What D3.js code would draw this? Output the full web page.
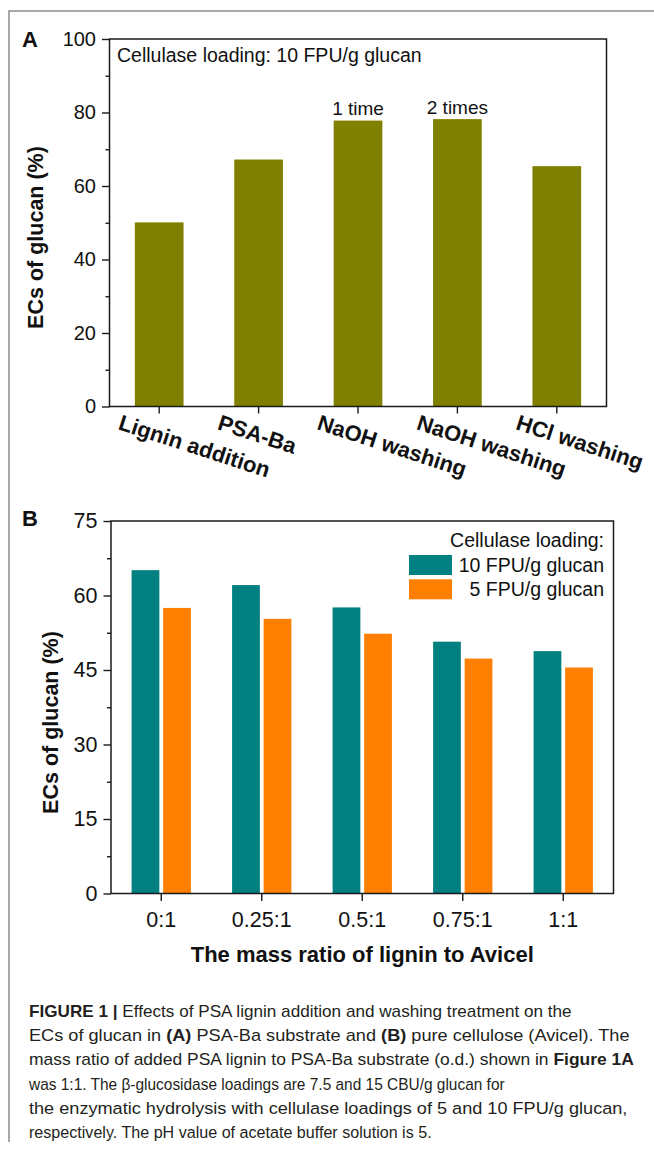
<!DOCTYPE html>
<html>
<head>
<meta charset="utf-8">
<script src="https://cdn.jsdelivr.net/npm/d3@7"></script>
<style>
  html, body { margin: 0; padding: 0; background: #fff; }
  svg { display: block; }
  text { font-family: "Liberation Sans", Arial, Helvetica, sans-serif; fill: #111; }
</style>
</head>
<body>
<script>
// ---- Panel A: PSA-Ba substrate, cellulase 10 FPU/g glucan ----
const treatmentsA = ["Lignin addition", "PSA-Ba", "NaOH washing", "NaOH washing", "HCl washing"];
const ecsA = [50.1, 67.2, 77.8, 78.2, 65.4];
const notesA = ["", "", "1 time", "2 times", ""];
const ticksA = [0, 20, 40, 60, 80, 100];
const minorTicksA = [10, 30, 50, 70, 90];

// ---- Panel B: Avicel with added lignin ----
const ratiosB = ["0:1", "0.25:1", "0.5:1", "0.75:1", "1:1"];
const seriesNamesB = ["10 FPU/g glucan", "5 FPU/g glucan"];
const ecs10FPU = [65.1, 62.1, 57.6, 50.7, 48.8];
const ecs5FPU = [57.5, 55.3, 52.3, 47.3, 45.5];
const ticksB = [0, 15, 30, 45, 60, 75];
const minorTicksB = [7.5, 22.5, 37.5, 52.5, 67.5];

const captionLines = [
  [["FIGURE 1 | ", true], ["Effects of PSA lignin addition and washing treatment on the", false]],
  [["ECs of glucan in ", false], ["(A)", true], [" PSA-Ba substrate and ", false], ["(B)", true], [" pure cellulose (Avicel). The", false]],
  [["mass ratio of added PSA lignin to PSA-Ba substrate (o.d.) shown in ", false], ["Figure 1A", true]],
  [["was 1:1. The β-glucosidase loadings are 7.5 and 15 CBU/g glucan for", false]],
  [["the enzymatic hydrolysis with cellulase loadings of 5 and 10 FPU/g glucan,", false]],
  [["respectively. The pH value of acetate buffer solution is 5.", false]]
];
const captionWidths = [543, 601, 605, 476, 599, 403];

const colors = { olive: "#808000", teal: "#008080", orange: "#ff8000", axis: "#1a1a1a" };

const W = 654, H = 1155;
const svg = d3.select("body").append("svg").attr("width", W).attr("height", H);

// page frame (top and left rules)
svg.append("path")
  .attr("d", "M9,1142 V11 H654")
  .attr("fill", "none").attr("stroke", "#8c8c8c").attr("stroke-width", 1.5);

function styleAxis(g, fontSize) {
  g.select(".domain").remove();
  g.selectAll(".tick line").attr("stroke", colors.axis).attr("stroke-width", 1.4);
  g.selectAll(".tick text")
    .attr("font-family", '"Liberation Sans", Arial, sans-serif')
    .attr("font-size", fontSize).attr("fill", "#111");
}

// ================= Panel A =================
const A = { left: 109.5, right: 606.5, top: 39, bottom: 406.5 };
const xA = d3.scaleBand().domain(d3.range(treatmentsA.length))
  .range([A.left, A.right]).paddingInner(0.51).paddingOuter(0.255);
const yA = d3.scaleLinear().domain([0, 100]).range([A.bottom, A.top]);

const gA = svg.append("g");
gA.selectAll("rect.bar").data(ecsA).join("rect")
  .attr("class", "bar")
  .attr("x", (d, i) => xA(i)).attr("width", xA.bandwidth())
  .attr("y", d => yA(d)).attr("height", d => yA(0) - yA(d))
  .attr("fill", colors.olive);

gA.selectAll("text.note").data(ecsA).join("text")
  .attr("class", "note")
  .attr("x", (d, i) => xA(i) + xA.bandwidth() / 2)
  .attr("y", d => yA(d) - 5.5)
  .attr("text-anchor", "middle").attr("font-size", 19)
  .text((d, i) => notesA[i]);

gA.append("g").attr("transform", `translate(${A.left},0)`)
  .call(d3.axisLeft(yA).tickValues(ticksA).tickSize(7.5).tickPadding(6))
  .call(g => styleAxis(g, 20));
gA.append("g").attr("transform", `translate(${A.left},0)`)
  .call(d3.axisLeft(yA).tickValues(minorTicksA).tickSize(4).tickFormat(""))
  .call(g => styleAxis(g, 20));

const xAxisA = gA.append("g").attr("transform", `translate(0,${A.bottom})`)
  .call(d3.axisBottom(xA).tickSize(7).tickFormat(i => treatmentsA[i]))
  .call(g => styleAxis(g, 22));
xAxisA.selectAll(".tick text")
  .attr("font-weight", "bold")
  .attr("text-anchor", "start")
  .attr("dy", null).attr("y", null)
  .attr("transform", "translate(-42,22.5) rotate(18)");

gA.append("rect")
  .attr("x", A.left).attr("y", A.top)
  .attr("width", A.right - A.left).attr("height", A.bottom - A.top)
  .attr("fill", "none").attr("stroke", colors.axis).attr("stroke-width", 1.5);

gA.append("text").attr("x", 117).attr("y", 62).attr("font-size", 19.5)
  .text("Cellulase loading: 10 FPU/g glucan");

gA.append("text")
  .attr("transform", `translate(43,${237.5}) rotate(-90)`)
  .attr("text-anchor", "middle").attr("font-size", 21.5).attr("font-weight", "bold")
  .text("ECs of glucan (%)");

svg.append("text").attr("x", 22).attr("y", 47)
  .attr("font-size", 22).attr("font-weight", "bold").text("A");

// ================= Panel B =================
const B = { left: 111, right: 613.5, top: 521, bottom: 893.5 };
const x0B = d3.scaleBand().domain(ratiosB).range([B.left, B.right])
  .paddingInner(0.41).paddingOuter(0.205);
const x1B = d3.scaleBand().domain([0, 1]).range([0, x0B.bandwidth()]).paddingInner(0.12);
const yB = d3.scaleLinear().domain([0, 75]).range([B.bottom, B.top]);
const seriesB = [ecs10FPU, ecs5FPU];
const seriesColors = [colors.teal, colors.orange];

const gB = svg.append("g");
const groups = gB.selectAll("g.group").data(ratiosB).join("g")
  .attr("class", "group")
  .attr("transform", d => `translate(${x0B(d)},0)`);
groups.selectAll("rect").data((d, i) => seriesB.map((s, k) => ({ k, v: s[i] }))).join("rect")
  .attr("x", d => x1B(d.k)).attr("width", x1B.bandwidth())
  .attr("y", d => yB(d.v)).attr("height", d => yB(0) - yB(d.v))
  .attr("fill", d => seriesColors[d.k]);

gB.append("g").attr("transform", `translate(${B.left},0)`)
  .call(d3.axisLeft(yB).tickValues(ticksB).tickSize(7.5).tickPadding(6))
  .call(g => styleAxis(g, 21.5));
gB.append("g").attr("transform", `translate(${B.left},0)`)
  .call(d3.axisLeft(yB).tickValues(minorTicksB).tickSize(4).tickFormat(""))
  .call(g => styleAxis(g, 21.5));

gB.append("g").attr("transform", `translate(0,${B.bottom})`)
  .call(d3.axisBottom(x0B).tickSize(7.5).tickPadding(11))
  .call(g => styleAxis(g, 21.5));

gB.append("rect")
  .attr("x", B.left).attr("y", B.top)
  .attr("width", B.right - B.left).attr("height", B.bottom - B.top)
  .attr("fill", "none").attr("stroke", colors.axis).attr("stroke-width", 1.5);

// legend
gB.append("text").attr("x", 604).attr("y", 547).attr("text-anchor", "end")
  .attr("font-size", 19.5).text("Cellulase loading:");
const legend = gB.selectAll("g.legend").data(seriesNamesB).join("g")
  .attr("class", "legend")
  .attr("transform", (d, i) => `translate(0,${555 + i * 24.3})`);
legend.append("rect").attr("x", 409).attr("y", 0).attr("width", 43).attr("height", 20)
  .attr("fill", (d, i) => seriesColors[i]);
legend.append("text").attr("x", 604).attr("y", 16.5).attr("text-anchor", "end")
  .attr("font-size", 19.5).text(d => d);

gB.append("text")
  .attr("transform", `translate(58,${722.5}) rotate(-90)`)
  .attr("text-anchor", "middle").attr("font-size", 21.5).attr("font-weight", "bold")
  .text("ECs of glucan (%)");

gB.append("text").attr("x", (B.left + B.right) / 2).attr("y", 962)
  .attr("text-anchor", "middle").attr("font-size", 22).attr("font-weight", "bold")
  .text("The mass ratio of lignin to Avicel");

svg.append("text").attr("x", 22).attr("y", 526)
  .attr("font-size", 22).attr("font-weight", "bold").text("B");

// ================= Caption =================
// each line is drawn at its natural width, then squeezed horizontally to its set width
const cap = svg.append("g");
captionLines.forEach((parts, li) => {
  const line = cap.append("g");
  const t = line.append("text")
    .attr("x", 0).attr("y", 0)
    .attr("font-size", 17).style("fill", "#231f20");
  parts.forEach(([str, bold]) => {
    t.append("tspan").attr("font-weight", bold ? "bold" : "normal")
      .style("fill", "#231f20").text(str);
  });
  const natural = t.node().getComputedTextLength();
  const sx = captionWidths[li] / natural;
  line.attr("transform", `translate(29,${1017 + li * 24.2}) scale(${sx},1)`);
});
</script>
</body>
</html>
